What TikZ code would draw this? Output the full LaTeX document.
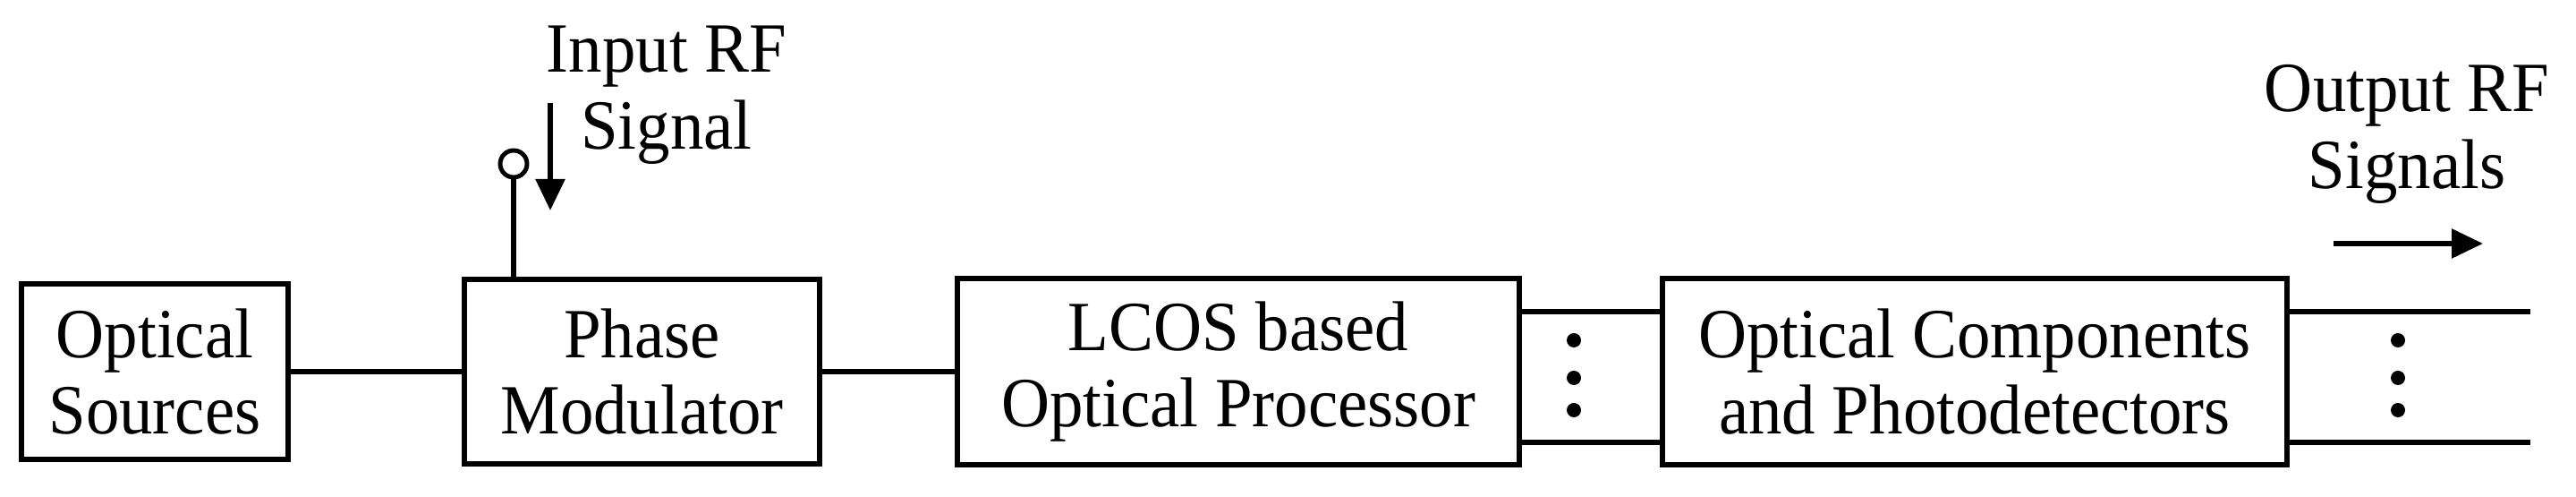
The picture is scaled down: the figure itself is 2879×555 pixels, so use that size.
\documentclass[tikz,border=0pt]{standalone}
\usepackage{fontspec}
\setmainfont{Liberation Serif}[FakeStretch=0.95]
\usetikzlibrary{arrows.meta}

\begin{document}
\begin{tikzpicture}
[x=0.01cm,y=0.01cm,
  blockdecorate/.style={shape=rectangle,draw,line width=1.8pt,inner sep=0pt,align=center,font=\fontsize{22.4}{24.4}\selectfont},%
  labeldecorate/.style={align=center,inner sep=0pt,font=\fontsize{22.4}{24.4}\selectfont},%
  dotdecorate/.style={shape=circle,fill,inner sep=0pt,minimum size=0.16cm},%
  linedecorate/.style={-,line width=1.8pt},%
  arrowdecorate/.style={-{Triangle[length=0.35cm,width=0.32cm]},line width=1.6pt}]
\useasboundingbox (0,0) rectangle (2879,555);
%% blocks
\foreach \nodename/\x/\w/\h/\txt in {src/173/2.98/1.96/{Optical\\Sources},
  mod/717.5/3.97/2.06/{Phase\\Modulator}, lcos/1384/6.28/2.08/{LCOS based\\Optical Processor},
  det/2207/6.97/2.08/{Optical Components\\and Photodetectors}} {
  \node (\nodename) at (\x,140) [blockdecorate,minimum width=\w cm,minimum height=\h cm] {\txt};
}
%% dots
\foreach \nodename/\x/\y in {lcosdot1/1759/175, lcosdot2/1759/133, lcosdot3/1759/97,
  detdot1/2680/175, detdot2/2680/133, detdot3/2680/97} {
  \node (\nodename) at (\x,\y) [dotdecorate] {};
}
%% rf input and output
\node (rfin) at (574,372) [shape=circle,draw,line width=1.4pt,inner sep=0pt,minimum size=0.3cm] {};
\node (inlabel) at (745,449) [labeldecorate] {Input RF\\Signal};
\node (outlabel) at (2690,405) [labeldecorate] {Output RF\\Signals};
\coordinate (inarrow) at (615,440);
\coordinate (inarrowend) at (615,320);
\coordinate (outarrow) at (2608,283);
\coordinate (outarrowend) at (2775,283);
\coordinate (outa) at (2828,207);
\coordinate (outb) at (2828,61);
%% edges or lines
\path
\foreach \startnode/\endnode in {src/mod, mod/lcos} {
  (\startnode) edge[linedecorate] (\endnode)
};
\draw[linedecorate] (lcos.east |- outa) -- (det.west |- outa);
\draw[linedecorate] (lcos.east |- outb) -- (det.west |- outb);
\draw[linedecorate] (det.east |- outa) -- (outa);
\draw[linedecorate] (det.east |- outb) -- (outb);
\draw[linedecorate] (rfin.south) -- (rfin.south |- mod.north);
\draw[arrowdecorate] (inarrow) -- (inarrowend);
\draw[arrowdecorate] (outarrow) -- (outarrowend);
\end{tikzpicture}
\end{document}
